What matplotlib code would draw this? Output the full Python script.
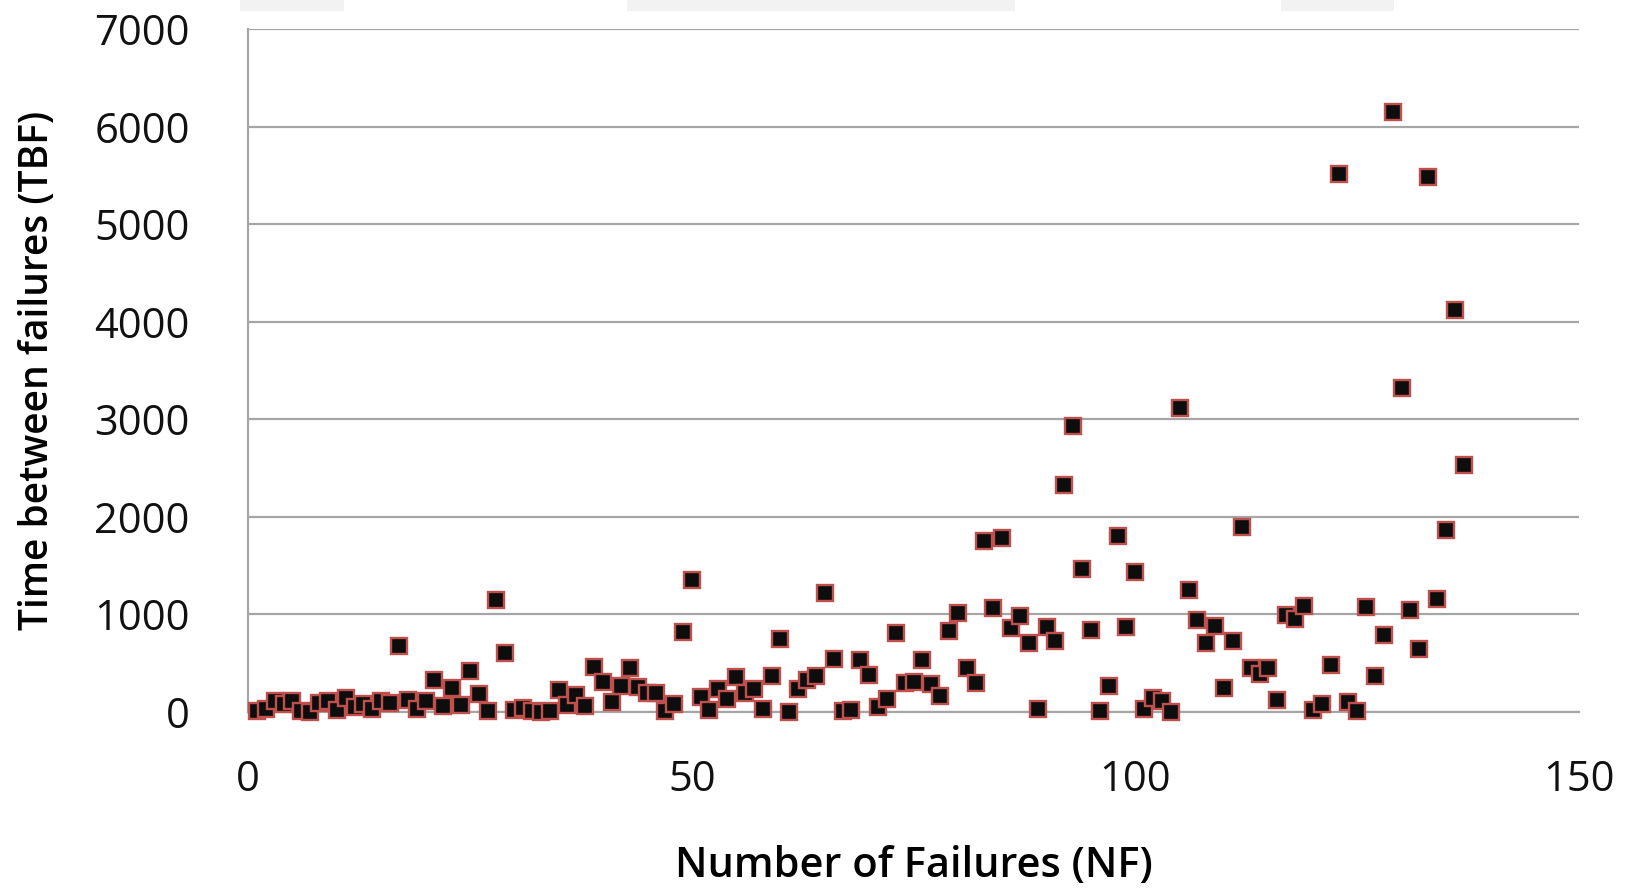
import numpy as np
import matplotlib
matplotlib.use('Agg')
import matplotlib.pyplot as plt
from matplotlib.patches import Rectangle

# --------------------------------------------------------------------------------
# Data: time between failures
a1dTBF = [3, 30, 113, 81, 115, 9, 2, 91, 112, 15, 138, 50, 77, 24, 108, 88, 670, 120,
          26, 114, 325, 55, 242, 68, 422, 180, 10, 1146, 600, 15, 36, 4, 0, 8, 227, 65,
          176, 58, 457, 300, 97, 263, 452, 255, 197, 193, 6, 79, 816, 1351, 148, 21, 233,
          134, 357, 193, 236, 31, 369, 748, 0, 232, 330, 365, 1222, 543, 10, 16, 529, 379,
          44, 129, 810, 290, 300, 529, 281, 160, 828, 1011, 445, 296, 1755, 1064, 1783,
          860, 983, 707, 33, 868, 724, 2323, 2930, 1461, 843, 12, 261, 1800, 865, 1435,
          30, 143, 108, 0, 3110, 1247, 943, 700, 875, 245, 729, 1897, 447, 386, 446, 122,
          990, 948, 1082, 22, 75, 482, 5509, 100, 10, 1071, 371, 790, 6150, 3321, 1045,
          648, 5485, 1160, 1864, 4116, 2530]
a1iNF = list(range(1, len(a1dTBF) + 1))

a1iXTicks = [0, 50, 100, 150]
a1iYTicks = [0, 1000, 2000, 3000, 4000, 5000, 6000, 7000]
# --------------------------------------------------------------------------------

plt.rcParams['font.family'] = ['Open Sans', 'DejaVu Sans']

oFig = plt.figure(figsize=(16.32, 8.93), dpi=100)
oAx = oFig.add_axes([0.152, 0.203, 0.8155, 0.7645])

# Faint strip artefacts at the top of the picture
for dX0, dX1 in [(0.147, 0.211), (0.384, 0.622), (0.785, 0.854)]:
    oFig.patches.append(Rectangle((dX0, 0.988), dX1 - dX0, 0.012, transform=oFig.transFigure,
                                  facecolor='#f2f2f2', edgecolor='none'))

oAx.plot(a1iNF, a1dTBF, linestyle='none', marker='s', markersize=12,
         markerfacecolor='#0d0d0d', markeredgecolor='#c0504d', markeredgewidth=1.7,
         zorder=3, clip_on=False)

oAx.set_xlim(0, 150)
oAx.set_ylim(0, 7000)
oAx.set_xticks(a1iXTicks)
oAx.set_yticks(a1iYTicks)
oAx.tick_params(axis='both', length=0, labelsize=30, colors='#111111')
oAx.tick_params(axis='x', pad=34)
oAx.tick_params(axis='y', pad=42)

oAx.grid(axis='y', color='#a6a6a6', linewidth=1.6)
oAx.set_axisbelow(True)
for sSide in ['top', 'right']:
    oAx.spines[sSide].set_visible(False)
for sSide in ['left', 'bottom']:
    oAx.spines[sSide].set_color('#a6a6a6')
    oAx.spines[sSide].set_linewidth(1.6)

oAx.set_xlabel('Number of Failures (NF)', fontsize=30, fontweight='semibold', labelpad=32)
oAx.set_ylabel('Time between failures (TBF)', fontsize=28, fontweight='semibold', labelpad=26)

oFig.savefig('out.png', dpi=100, facecolor='white')
